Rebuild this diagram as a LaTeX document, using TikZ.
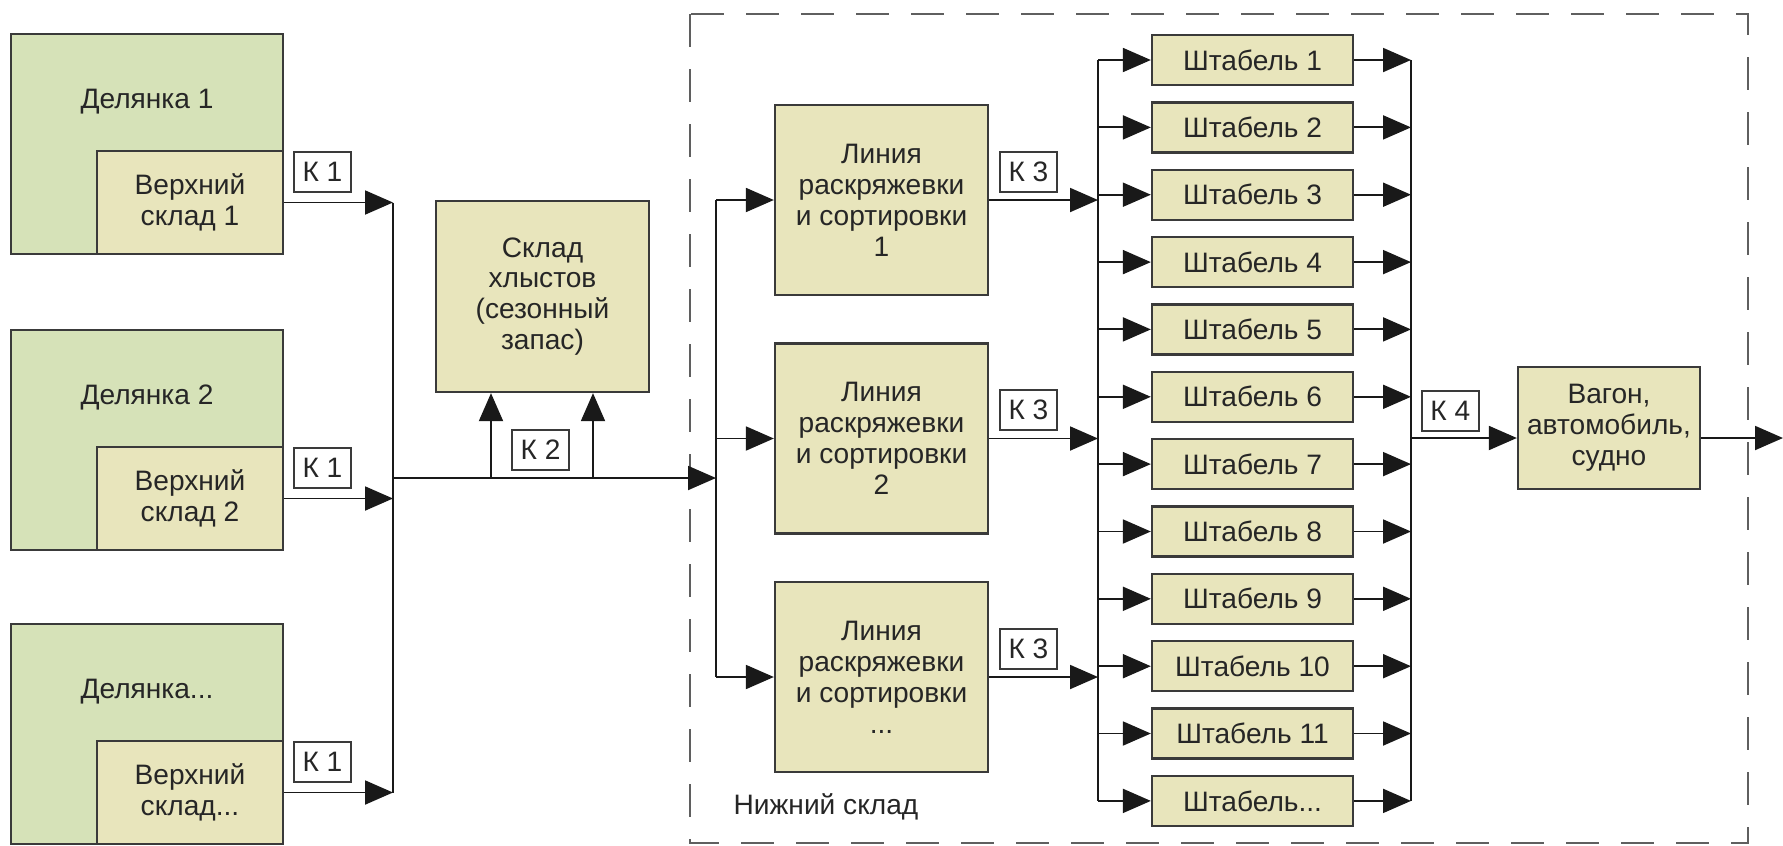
\documentclass[tikz,border=0pt]{standalone}
\usepackage{fontspec}
\setmainfont{Liberation Sans}
\usetikzlibrary{arrows.meta,calc,positioning}
\definecolor{plotgreen}{RGB}{214,226,184}
\definecolor{boxkhaki}{RGB}{232,229,188}
\definecolor{linegray}{RGB}{58,58,58}
\definecolor{edgegray}{RGB}{25,25,25}
\definecolor{textgray}{RGB}{38,38,38}
\definecolor{dashgray}{RGB}{95,95,95}
\begin{document}
\begin{tikzpicture}[x=0.2mm,y=-0.2mm]
\tikzstyle{plot_style} = [draw=linegray, line width=1.3pt, fill=plotgreen, minimum width=54.4mm, minimum height=44mm, inner sep=0pt]
\tikzstyle{box_style} = [draw=linegray, line width=1.3pt, fill=boxkhaki, align=center, inner sep=0pt, text=textgray, font=\fontsize{16}{17.6}\selectfont]
\tikzstyle{store_style} = [box_style, minimum width=37.2mm, minimum height=20.6mm, anchor=south east]
\tikzstyle{line_style} = [box_style, minimum width=42.6mm, minimum height=38mm]
\tikzstyle{stack_style} = [box_style, minimum width=40.2mm, minimum height=10mm]
\tikzstyle{k_style} = [draw=linegray, line width=0.9pt, fill=white, minimum width=11.4mm, minimum height=8mm, inner sep=0pt, text=textgray, font=\fontsize{16}{17.6}\selectfont]
\tikzstyle{text_style} = [text=textgray, font=\fontsize{16}{17.6}\selectfont]
\tikzstyle{edge_style} = [edgegray, line width=1.1pt]
\tikzstyle{arrow_style} = [edge_style, -{Triangle[length=5.6mm,width=4.8mm]}]
\tikzstyle{dash_style} = [draw=dashgray, line width=1.1pt, dash pattern=on 6.6mm off 4.4mm]
    \useasboundingbox (0,0) rectangle (1783,845);

    % нижний склад
    \draw[dash_style] (690,14) rectangle (1748,843);
    \node[text_style] (ns) at (826,807) {Нижний склад};

    % делянки и верхние склады
    \node[plot_style] (d1) at (147,144) {};
    \node[plot_style] (d2) at (147,440) {};
    \node[plot_style] (d3) at (147,734) {};
    \node[text_style] (d1t) at ($(d1.north)+(0,69)$) {Делянка 1};
    \node[text_style] (d2t) at ($(d2.north)+(0,69)$) {Делянка 2};
    \node[text_style] (d3t) at ($(d3.north)+(0,69)$) {Делянка...};
    \node[store_style] (s1) at (d1.south east) {Верхний\\склад 1};
    \node[store_style] (s2) at (d2.south east) {Верхний\\склад 2};
    \node[store_style] (s3) at (d3.south east) {Верхний\\склад...};

    \node[k_style, above right=1.9mm and 1.8mm of s1.east] (k11) {К 1};
    \node[k_style, above right=1.9mm and 1.8mm of s2.east] (k12) {К 1};
    \node[k_style, above right=1.9mm and 1.8mm of s3.east] (k13) {К 1};

    \coordinate (c1a) at (393,202.5);
    \coordinate (c1b) at (393,792.5);
    \draw[edge_style] (c1a) -- (c1b);
    \draw[arrow_style] (s1.east) -- (s1.east -| c1a);
    \draw[arrow_style] (s2.east) -- (s2.east -| c1a);
    \draw[arrow_style] (s3.east) -- (s3.east -| c1a);

    % склад хлыстов
    \node[box_style, minimum width=42.6mm, minimum height=38.2mm] (sk) at (542.5,296.5) {Склад\\хлыстов\\(сезонный\\запас)};
    \node[k_style] (k2) at (540.5,450) {К 2};

    \coordinate (m1) at (393,478);
    \coordinate (u1) at (491,478);
    \coordinate (u2) at (593,478);
    \draw[arrow_style] (u1) -- (u1 |- sk.south);
    \draw[arrow_style] (u2) -- (u2 |- sk.south);

    % линии раскряжевки
    \node[line_style] (l1) at (881.5,200) {Линия\\раскряжевки\\и сортировки\\1};
    \node[line_style] (l2) at (881.5,438.5) {Линия\\раскряжевки\\и сортировки\\2};
    \node[line_style] (l3) at (881.5,677) {Линия\\раскряжевки\\и сортировки\\...};

    \coordinate (c2a) at (716,200);
    \coordinate (c2b) at (716,677);
    \draw[arrow_style] (m1) -- (m1 -| c2a);
    \draw[edge_style] (c2a) -- (c2b);
    \draw[arrow_style] (c2a) -- (l1.west);
    \draw[arrow_style] (l2.west -| c2a) -- (l2.west);
    \draw[arrow_style] (c2b) -- (l3.west);

    \node[k_style, above right=1.5mm and 2mm of l1.east] (k31) {К 3};
    \node[k_style, above right=1.5mm and 2mm of l2.east] (k32) {К 3};
    \node[k_style, above right=1.5mm and 2mm of l3.east] (k33) {К 3};

    % штабели
    \node[stack_style] (t1) at (1252.5,60) {Штабель 1};
    \node[stack_style] (t2) at (1252.5,127.4) {Штабель 2};
    \node[stack_style] (t3) at (1252.5,194.7) {Штабель 3};
    \node[stack_style] (t4) at (1252.5,262.1) {Штабель 4};
    \node[stack_style] (t5) at (1252.5,329.4) {Штабель 5};
    \node[stack_style] (t6) at (1252.5,396.8) {Штабель 6};
    \node[stack_style] (t7) at (1252.5,464.1) {Штабель 7};
    \node[stack_style] (t8) at (1252.5,531.5) {Штабель 8};
    \node[stack_style] (t9) at (1252.5,598.8) {Штабель 9};
    \node[stack_style] (t10) at (1252.5,666.2) {Штабель 10};
    \node[stack_style] (t11) at (1252.5,733.5) {Штабель 11};
    \node[stack_style] (t12) at (1252.5,800.9) {Штабель...};

    \coordinate (c3a) at (1098,60);
    \coordinate (c3b) at (1098,800.9);
    \coordinate (c4a) at (1411,60);
    \coordinate (c4b) at (1411,800.9);
    \draw[edge_style] (c3a) -- (c3b);
    \draw[edge_style] (c4a) -- (c4b);

    \draw[arrow_style] (l1.east) -- (l1.east -| c3a);
    \draw[arrow_style] (l2.east) -- (l2.east -| c3a);
    \draw[arrow_style] (l3.east) -- (l3.east -| c3a);

    \draw[arrow_style] (t1.west -| c3a) -- (t1.west);
    \draw[arrow_style] (t2.west -| c3a) -- (t2.west);
    \draw[arrow_style] (t3.west -| c3a) -- (t3.west);
    \draw[arrow_style] (t4.west -| c3a) -- (t4.west);
    \draw[arrow_style] (t5.west -| c3a) -- (t5.west);
    \draw[arrow_style] (t6.west -| c3a) -- (t6.west);
    \draw[arrow_style] (t7.west -| c3a) -- (t7.west);
    \draw[arrow_style] (t8.west -| c3a) -- (t8.west);
    \draw[arrow_style] (t9.west -| c3a) -- (t9.west);
    \draw[arrow_style] (t10.west -| c3a) -- (t10.west);
    \draw[arrow_style] (t11.west -| c3a) -- (t11.west);
    \draw[arrow_style] (t12.west -| c3a) -- (t12.west);

    \draw[arrow_style] (t1.east) -- (t1.east -| c4a);
    \draw[arrow_style] (t2.east) -- (t2.east -| c4a);
    \draw[arrow_style] (t3.east) -- (t3.east -| c4a);
    \draw[arrow_style] (t4.east) -- (t4.east -| c4a);
    \draw[arrow_style] (t5.east) -- (t5.east -| c4a);
    \draw[arrow_style] (t6.east) -- (t6.east -| c4a);
    \draw[arrow_style] (t7.east) -- (t7.east -| c4a);
    \draw[arrow_style] (t8.east) -- (t8.east -| c4a);
    \draw[arrow_style] (t9.east) -- (t9.east -| c4a);
    \draw[arrow_style] (t10.east) -- (t10.east -| c4a);
    \draw[arrow_style] (t11.east) -- (t11.east -| c4a);
    \draw[arrow_style] (t12.east) -- (t12.east -| c4a);

    % отгрузка
    \node[box_style, minimum width=36.4mm, minimum height=24.4mm] (v) at (1609,428) {Вагон,\\автомобиль,\\судно};
    \coordinate (c4m) at (1411,438);
    \coordinate (out) at (1783,438);
    \node[k_style, above right=1.2mm and 2mm of c4m] (k4) {К 4};
    \draw[arrow_style] (c4m) -- (c4m -| v.west);
    \draw[arrow_style] (c4m -| v.east) -- (out);
\end{tikzpicture}
\end{document}
